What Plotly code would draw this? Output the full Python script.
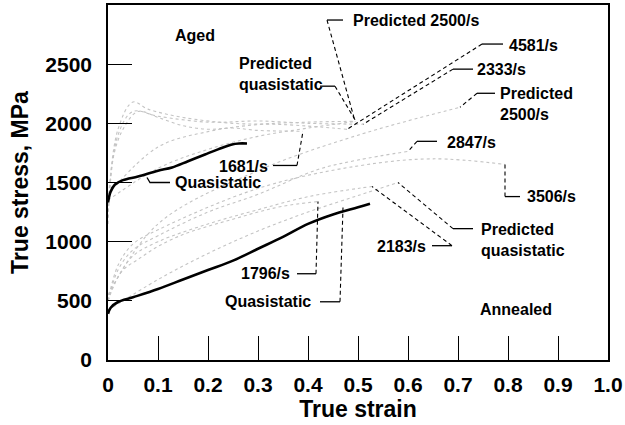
import plotly.graph_objects as go

# ---------------- data ----------------
# Solid measured quasistatic curves
aged_qs_strain = [0, 0.005, 0.014, 0.03, 0.06, 0.1, 0.128, 0.16, 0.194, 0.22, 0.248, 0.262, 0.278]
aged_qs_stress = [1330, 1420, 1483, 1520, 1551, 1600, 1627, 1680, 1737, 1780, 1822, 1830, 1830]

ann_qs_strain = [0, 0.005, 0.02, 0.05, 0.1, 0.15, 0.2, 0.25, 0.3, 0.35, 0.4, 0.45, 0.5, 0.524]
ann_qs_stress = [390, 440, 490, 530, 600, 680, 760, 840, 940, 1040, 1150, 1230, 1290, 1320]

# Faint dotted curves (aged)
aged_1681_strain = [0, 0.01, 0.03, 0.06, 0.1, 0.15, 0.2, 0.25, 0.3, 0.35, 0.39]
aged_1681_stress = [1150, 1700, 1950, 2100, 2050, 1980, 1950, 1960, 1940, 1935, 1932]
aged_2333_strain = [0, 0.02, 0.05, 0.1, 0.2, 0.3, 0.4, 0.51]
aged_2333_stress = [1200, 1900, 2100, 2060, 2010, 2020, 2000, 1992]
aged_4581_strain = [0, 0.02, 0.05, 0.08, 0.15, 0.25, 0.35, 0.45, 0.478]
aged_4581_stress = [1300, 1950, 2180, 2120, 2050, 2000, 1990, 1960, 1949]
aged_predqs_strain = [0, 0.1, 0.2, 0.3, 0.4, 0.496]
aged_predqs_stress = [1350, 1620, 1780, 1890, 1960, 2017]
aged_pred2500_strain = [0, 0.1, 0.2, 0.3, 0.4, 0.494]
aged_pred2500_stress = [1400, 1800, 1930, 1990, 2010, 2017]

# Faint dotted curves (annealed)
ann_1796_strain = [0, 0.01, 0.03, 0.06, 0.1, 0.15, 0.2, 0.25, 0.3, 0.35, 0.42]
ann_1796_stress = [500, 620, 760, 850, 960, 1060, 1130, 1190, 1250, 1300, 1339]
ann_2183_strain = [0, 0.02, 0.05, 0.1, 0.2, 0.3, 0.4, 0.5, 0.528]
ann_2183_stress = [500, 700, 880, 1000, 1150, 1270, 1380, 1450, 1466]
ann_2847_strain = [0, 0.02, 0.05, 0.1, 0.2, 0.3, 0.42, 0.5, 0.6]
ann_2847_stress = [500, 760, 930, 1050, 1250, 1400, 1610, 1690, 1763]
ann_3506_strain = [0, 0.02, 0.05, 0.1, 0.3, 0.5, 0.65, 0.794]
ann_3506_stress = [500, 800, 980, 1100, 1450, 1640, 1700, 1653]
ann_predqs_strain = [0, 0.1, 0.2, 0.3, 0.4, 0.5, 0.58]
ann_predqs_stress = [420, 680, 900, 1090, 1250, 1390, 1500]
ann_pred2500_strain = [0, 0.1, 0.3, 0.5, 0.704]
ann_pred2500_stress = [550, 1150, 1600, 1900, 2136]

# Labels: text, x, y, anchor
label_text = ["Predicted 2500/s", "4581/s", "2333/s", "Predicted<br>2500/s", "2847/s",
              "3506/s", "Predicted<br>quasistatic", "2183/s", "Annealed", "1796/s",
              "Quasistatic", "Aged", "Predicted<br>quasistatic", "1681/s", "Quasistatic"]
label_x = [0.486, 0.798, 0.734, 0.78, 0.674, 0.834, 0.742, 0.64, 0.74, 0.368,
           0.41, 0.13, 0.258, 0.324, 0.13]
label_y = [2873, 2661, 2458, 2161, 1839, 1381, 1017, 958, 424, 729,
           492, 2746, 2415, 1636, 1500]
label_anchor = ["left", "left", "left", "left", "left", "left", "left", "right", "left", "right",
                "right", "left", "left", "right", "left"]

# Leader lines: stub start A, bend B, tip C
leader_ax = [0.47, 0.424, 0.79, 0.73, 0.774, 0.658, 0.824, 0.73, 0.648, 0.378, 0.424, 0.33]
leader_ay = [2873, 2314, 2670, 2458, 2254, 1848, 1381, 1110, 966, 729, 492, 1644]
leader_bx = [0.438, 0.454, 0.748, 0.69, 0.738, 0.618, 0.794, 0.69, 0.688, 0.416, 0.464, 0.378]
leader_by = [2873, 2314, 2670, 2458, 2254, 1848, 1381, 1110, 966, 729, 492, 1644]
leader_cx = [0.494, 0.496, 0.478, 0.51, 0.704, 0.6, 0.794, 0.58, 0.528, 0.42, 0.47, 0.39]
leader_cy = [2017, 2017, 1949, 1992, 2136, 1763, 1653, 1500, 1466, 1339, 1288, 1932]
# aged quasistatic leader (solid, bent)
qs_leader_x = [0.124, 0.084, 0.078]
qs_leader_y = [1500, 1500, 1542]

x_ticks = [0, 0.1, 0.2, 0.3, 0.4, 0.5, 0.6, 0.7, 0.8, 0.9, 1.0]
x_tick_text = ["0", "0.1", "0.2", "0.3", "0.4", "0.5", "0.6", "0.7", "0.8", "0.9", "1.0"]
y_ticks = [0, 500, 1000, 1500, 2000, 2500]

# ---------------- figure ----------------
fig = go.Figure()

faint = dict(color="#c4c4c4", width=1.1, dash="dot")
for xs, ys in [(aged_1681_strain, aged_1681_stress), (aged_2333_strain, aged_2333_stress),
               (aged_4581_strain, aged_4581_stress), (aged_predqs_strain, aged_predqs_stress),
               (aged_pred2500_strain, aged_pred2500_stress), (ann_1796_strain, ann_1796_stress),
               (ann_2183_strain, ann_2183_stress), (ann_2847_strain, ann_2847_stress),
               (ann_3506_strain, ann_3506_stress), (ann_predqs_strain, ann_predqs_stress),
               (ann_pred2500_strain, ann_pred2500_stress)]:
    fig.add_trace(go.Scatter(x=xs, y=ys, mode="lines", line=dict(faint, shape="spline"),
                             hoverinfo="skip", showlegend=False))

for xs, ys in [(aged_qs_strain, aged_qs_stress), (ann_qs_strain, ann_qs_stress)]:
    fig.add_trace(go.Scatter(x=xs, y=ys, mode="lines",
                             line=dict(color="black", width=2.6, shape="spline"),
                             showlegend=False))

for i in range(len(leader_ax)):
    fig.add_trace(go.Scatter(x=[leader_ax[i], leader_bx[i]], y=[leader_ay[i], leader_by[i]],
                             mode="lines", line=dict(color="black", width=1.3),
                             hoverinfo="skip", showlegend=False))
    fig.add_trace(go.Scatter(x=[leader_bx[i], leader_cx[i]], y=[leader_by[i], leader_cy[i]],
                             mode="lines", line=dict(color="black", width=1.1, dash="4px,3px"),
                             hoverinfo="skip", showlegend=False))
fig.add_trace(go.Scatter(x=qs_leader_x, y=qs_leader_y, mode="lines",
                         line=dict(color="black", width=1.3), hoverinfo="skip", showlegend=False))

for t, x, y, a in zip(label_text, label_x, label_y, label_anchor):
    fig.add_annotation(x=x, y=y, text="<b>" + t + "</b>", showarrow=False,
                       xanchor=a, yanchor="middle", align="left",
                       font=dict(family="Liberation Sans, Arial", size=16, color="black"))

axis_font = dict(family="Liberation Sans, Arial", size=21, color="black")
title_font = dict(family="Liberation Sans, Arial", size=23, color="black")
fig.update_layout(
    width=625, height=425,
    margin=dict(l=108, r=17, t=5, b=65),
    paper_bgcolor="white", plot_bgcolor="white",
    font=dict(family="Liberation Sans, Arial", color="black"),
    xaxis=dict(range=[0, 1.0], tickvals=x_ticks, ticktext=["<b>" + s + "</b>" for s in x_tick_text],
               ticks="inside", ticklen=24, tickwidth=1.3, tickcolor="black",
               showline=True, linecolor="black", linewidth=1.6, mirror=True, automargin=False,
               showgrid=False, zeroline=False, tickfont=axis_font, ticklabelstandoff=5,
               title=dict(text="<b>True strain</b>", font=title_font, standoff=2)),
    yaxis=dict(range=[0, 3000], tickvals=y_ticks, ticktext=["<b>%d</b>" % v for v in y_ticks],
               ticks="inside", ticklen=24, tickwidth=1.3, tickcolor="black",
               showline=True, linecolor="black", linewidth=1.6, mirror=True, automargin=False,
               showgrid=False, zeroline=False, tickfont=axis_font, ticklabelstandoff=10,
               title=dict(text="<b>True stress, MPa</b>", font=title_font, standoff=10)),
)

fig.write_html("out.html", config={"displayModeBar": False},
               post_script="document.body.style.margin='0';")
